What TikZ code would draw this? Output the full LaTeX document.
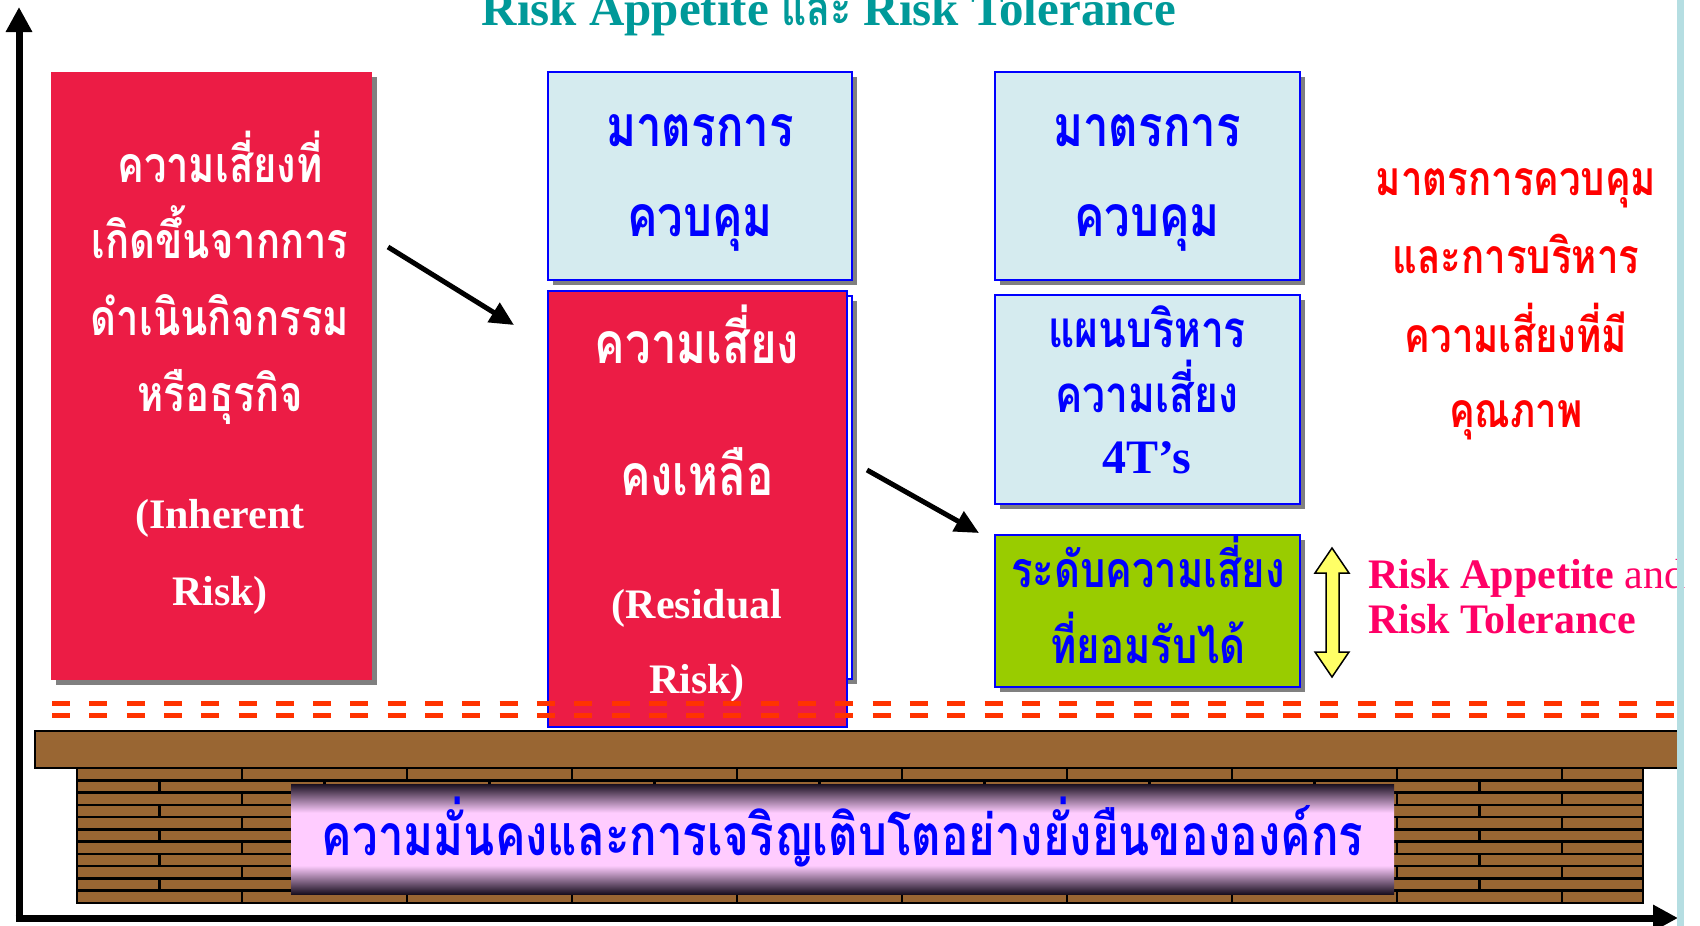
\documentclass[tikz,border=0pt]{standalone}
\usepackage{fontspec}
\setmainfont{Liberation Serif}
\newfontfamily\thai[Script=Thai, FakeStretch=0.8]{Loma}
\usetikzlibrary{arrows.meta,shadows}
\newcommand\thb{\thai\bfseries}
\newcommand\fsz[1]{\fontsize{#1}{#1}\selectfont}
\definecolor{crim}{HTML}{EC1C45}
\definecolor{lblue}{HTML}{D5EBEF}
\definecolor{bluetx}{HTML}{0000FF}
\definecolor{greenbox}{HTML}{99CC00}
\definecolor{brownc}{HTML}{996633}
\definecolor{dashc}{HTML}{FF3300}
\definecolor{redtx}{HTML}{FF0000}
\definecolor{pinktx}{HTML}{FF0066}
\definecolor{tealc}{HTML}{009999}
\definecolor{stripe}{HTML}{B5DEE2}
\definecolor{yel}{HTML}{FFFF66}
\definecolor{pinkb}{HTML}{FFCCFF}
\definecolor{darkb}{HTML}{1A1020}
\definecolor{shadowgray}{HTML}{808080}
\pgfdeclareverticalshading{bannershade}{100bp}{color(0bp)=(darkb); color(25bp)=(darkb); color(38bp)=(pinkb); color(62bp)=(pinkb); color(75bp)=(darkb); color(100bp)=(darkb)}
\tikzset{
  box/.style={rectangle, inner sep=0pt, outer sep=0pt},
  shadowed/.style={drop shadow={shadow xshift=5pt, shadow yshift=-5pt, fill=shadowgray, opacity=1}},
  redbox/.style={box, fill=crim},
  bluebox/.style={box, fill=lblue, draw=bluetx, line width=2pt},
  greenb/.style={box, fill=greenbox, draw=bluetx, line width=2pt},
  tx/.style={inner sep=0pt, anchor=base},
  wtx/.style={tx, text=white},
  btx/.style={tx, text=bluetx},
  rtx/.style={tx, text=redtx},
  blackarrow/.style={line width=5pt, -{Triangle[length=24pt,width=22pt]}},
  axisline/.style={line width=7pt, -{Triangle[length=25pt,width=25pt]}},
  dashline/.style={draw=dashc, line width=5pt, dash pattern=on 18pt off 19.3pt},
}
\begin{document}
\begin{tikzpicture}[x=1pt,y=-1pt]
\useasboundingbox (0,0) rectangle (1700,926);
\clip (0,0) rectangle (1700,926);

% title
\node[tx, text=tealc, font=\bfseries\fsz{49}] (title) at (829,25) {Risk Appetite {\thb และ} Risk Tolerance};

% box 1
\node[redbox, shadowed, minimum width=321pt, minimum height=608pt] (b1) at (211.5,376) {};
\node[wtx, font=\thb\fsz{50}] (t1a) at (220,182) {ความเสี่ยงที่};
\node[wtx, font=\thb\fsz{50}] (t1b) at (220,258) {เกิดขึ้นจากการ};
\node[wtx, font=\thb\fsz{50}] (t1c) at (220,335) {ดำเนินกิจกรรม};
\node[wtx, font=\thb\fsz{50}] (t1d) at (220,411) {หรือธุรกิจ};
\node[wtx, font=\bfseries\fsz{42}] (t1e) at (220,528) {(Inherent};
\node[wtx, font=\bfseries\fsz{42}] (t1f) at (220,605) {Risk)};

% box 2
\node[bluebox, shadowed, minimum width=304pt, minimum height=208pt] (b2) at (700,176) {};
\node[btx, font=\thb\fsz{57}] (t2a) at (700,146) {มาตรการ};
\node[btx, font=\thb\fsz{57}] (t2b) at (700,236) {ควบคุม};

% residual box
\node[box, fill=white, draw=bluetx, line width=2pt, shadowed, minimum width=299pt, minimum height=383pt] (b3back) at (702.5,487.5) {};
\node[redbox, draw=bluetx, line width=2pt, minimum width=299pt, minimum height=436pt] (b3) at (697.5,509) {};
\node[wtx, font=\thb\fsz{57}] (t3a) at (697,363) {ความเสี่ยง};
\node[wtx, font=\thb\fsz{57}] (t3b) at (697,495) {คงเหลือ};
\node[wtx, font=\bfseries\fsz{42}] (t3c) at (697,618) {(Residual};
\node[wtx, font=\bfseries\fsz{42}] (t3d) at (697,693) {Risk)};

% box 4
\node[bluebox, shadowed, minimum width=305pt, minimum height=208pt] (b4) at (1147.5,176) {};
\node[btx, font=\thb\fsz{57}] (t4a) at (1147,146) {มาตรการ};
\node[btx, font=\thb\fsz{57}] (t4b) at (1147,236) {ควบคุม};

% box 5
\node[bluebox, shadowed, minimum width=305pt, minimum height=209pt] (b5) at (1147.5,399.5) {};
\node[btx, font=\thb\fsz{51}] (t5a) at (1147,347) {แผนบริหาร};
\node[btx, font=\thb\fsz{51}] (t5b) at (1147,412) {ความเสี่ยง};
\node[btx, font=\bfseries\fsz{48}] (t5c) at (1147,473) {4T’s};

% green box
\node[greenb, shadowed, minimum width=305pt, minimum height=152pt] (b6) at (1147.5,611) {};
\node[btx, font=\thb\fsz{50}] (t6a) at (1148,587) {ระดับความเสี่ยง};
\node[btx, font=\thb\fsz{50}] (t6b) at (1148,663) {ที่ยอมรับได้};

% right red text
\node[rtx, font=\thb\fsz{48}] (r1) at (1516,195) {มาตรการควบคุม};
\node[rtx, font=\thb\fsz{48}] (r2) at (1516,273) {และการบริหาร};
\node[rtx, font=\thb\fsz{48}] (r3) at (1516,352) {ความเสี่ยงที่มี};
\node[rtx, font=\thb\fsz{48}] (r4) at (1516,427) {คุณภาพ};

% yellow double arrow
\draw[fill=yel, draw=black, line width=1.5pt] (1332,548) -- (1349,573) -- (1339,573) -- (1339,652) -- (1349,652) -- (1332,677) -- (1315,652) -- (1326,652) -- (1326,573) -- (1315,573) -- cycle;

% pink text
\node[inner sep=0pt, anchor=base west, text=pinktx, font=\fsz{42}] (p1) at (1368,588) {\textbf{Risk Appetite} and};
\node[inner sep=0pt, anchor=base west, text=pinktx, font=\bfseries\fsz{42}] (p2) at (1368,633) {Risk Tolerance};

% black arrows
\coordinate (a1s) at (388,247);
\coordinate (a1e) at (514,325);
\coordinate (a2s) at (867,470);
\coordinate (a2e) at (979,533);
\draw[blackarrow] (a1s) -- (a1e);
\draw[blackarrow] (a2s) -- (a2e);

% dashed lines
\draw[dashline] (52,703) -- (1677,703);
\draw[dashline] (52,715) -- (1677,715);

% slab
\draw[fill=brownc, draw=black, line width=2pt] (35,731) rectangle (1683,768);

% brick wall
\fill[brownc] (77,768) rectangle (1643,903);
\begin{scope}
  \clip (77,768) rectangle (1643,903);
  \foreach \i in {0,...,10} {
    \pgfmathsetmacro\ya{768+\i*135/11}
    \pgfmathsetmacro\yb{768+(\i+1)*135/11}
    \pgfmathsetmacro\off{mod(\i,2)*82.5}
    \draw[line width=2.5pt] (77,\yb) -- (1643,\yb);
    \foreach \k in {0,...,10} {
      \pgfmathsetmacro\xx{77+\off+165*\k}
      \draw[line width=2.5pt] (\xx,\ya) -- (\xx,\yb);
    }
  }
\end{scope}
\draw[line width=2.5pt] (77,768) rectangle (1643,903);

% banner
\shade[shading=bannershade] (291,784) rectangle (1394,894);
\node[btx, font=\thb\fsz{57}] (ban) at (842.5,855) {ความมั่นคงและการเจริญเติบโตอย่างยั่งยืนขององค์กร};

% axes
\coordinate (orig) at (19,918);
\coordinate (ytop) at (19,7);
\coordinate (xend) at (1678,918);
\draw[axisline] (orig) -- (ytop);
\draw[axisline] ([xshift=-3.5pt]orig) -- (xend);

% right stripe
\fill[stripe] (1677,0) rectangle (1684,926);
\end{tikzpicture}
\end{document}
